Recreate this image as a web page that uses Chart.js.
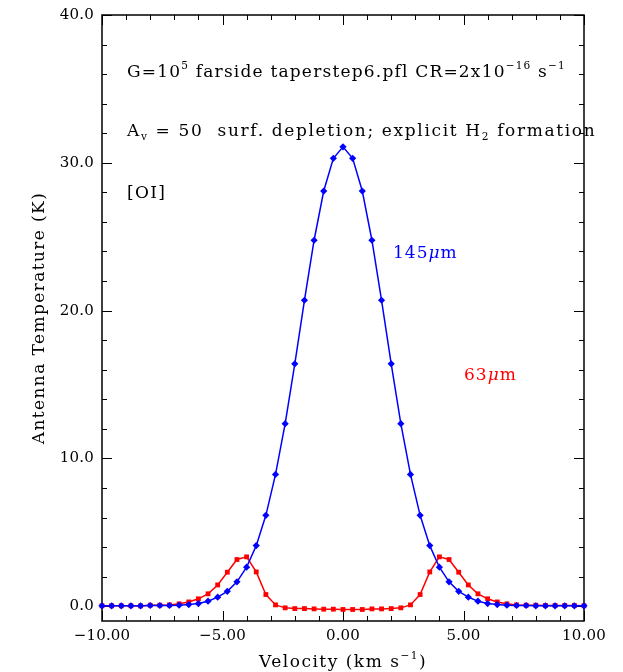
<!DOCTYPE html>
<html>
<head>
<meta charset="utf-8">
<script src="https://cdn.jsdelivr.net/npm/chart.js@4.4.1/dist/chart.umd.min.js"></script>
<style>
  html, body { margin: 0; padding: 0; background: #fff; }
  #wrap { width: 623px; height: 672px; position: relative; }
</style>
</head>
<body>
<div id="wrap"><canvas id="c"></canvas></div>
<script>
/* ===== data ===== */
const velocity = [
  -10.0, -9.6, -9.2, -8.8, -8.4, -8.0, -7.6, -7.2, -6.8, -6.4, -6.0, -5.6, -5.2,
  -4.8, -4.4, -4.0, -3.6, -3.2, -2.8, -2.4, -2.0, -1.6, -1.2, -0.8, -0.4, 0.0,
  0.4, 0.8, 1.2, 1.6, 2.0, 2.4, 2.8, 3.2, 3.6, 4.0, 4.4, 4.8, 5.2, 5.6, 6.0,
  6.4, 6.8, 7.2, 7.6, 8.0, 8.4, 8.8, 9.2, 9.6, 10.0,
];
const t145 = [
  0.03, 0.03, 0.03, 0.03, 0.03, 0.05, 0.05, 0.05, 0.07, 0.11, 0.18, 0.34, 0.61,
  1.01, 1.65, 2.64, 4.10, 6.15, 8.92, 12.35, 16.4, 20.7, 24.76, 28.09, 30.3, 31.08,
  30.3, 28.09, 24.76, 20.7, 16.4, 12.35, 8.92, 6.15, 4.10, 2.64, 1.65, 1.01, 0.61, 0.34, 0.18,
  0.11, 0.07, 0.05, 0.05, 0.03, 0.03, 0.03, 0.03, 0.03, 0.03,
];
const t63 = [
  0.03, 0.03, 0.03, 0.03, 0.02, 0.07, 0.07, 0.09, 0.16, 0.29, 0.50, 0.84, 1.44,
  2.30, 3.16, 3.34, 2.32, 0.79, 0.09, -0.11, -0.16, -0.16, -0.18, -0.20, -0.20, -0.22,
  -0.22, -0.22, -0.18, -0.18, -0.16, -0.11, 0.09, 0.79, 2.32, 3.34, 3.16, 2.30, 1.44, 0.84, 0.50,
  0.29, 0.16, 0.09, 0.07, 0.07, 0.05, 0.05, 0.05, 0.05, 0.03,
];
const xMajor = [-10, -5, 0, 5, 10];
const xMajorLabels = ["\u221210.00", "\u22125.00", "0.00", "5.00", "10.00"];
const xMinor = [-9, -8, -7, -6, -4, -3, -2, -1, 1, 2, 3, 4, 6, 7, 8, 9];
const yMajor = [0, 10, 20, 30, 40];
const yMajorLabels = ["0.0", "10.0", "20.0", "30.0", "40.0"];
const yMinor = [2, 4, 6, 8, 12, 14, 16, 18, 22, 24, 26, 28, 32, 34, 36, 38];

const FONT = '"DejaVu Serif", "Liberation Serif", serif';
const BLUE = "#0000ff";
const RED = "#ff0000";

/* ===== text helpers ===== */
function richWidth(ctx, parts, size, spacing) {
  let w = 0;
  for (const [t, k] of parts) {
    const s = (k === "sup" || k === "sub") ? size * 0.62 : size;
    ctx.font = (k === "it" ? "italic " : "") + s + "px " + FONT;
    ctx.letterSpacing = spacing + "px";
    w += ctx.measureText(t).width;
  }
  return w;
}

function drawRich(ctx, x, y, parts, size, color, spacing = 0) {
  let cx = x;
  ctx.fillStyle = color;
  ctx.textBaseline = "alphabetic";
  ctx.textAlign = "left";
  for (const [t, k] of parts) {
    let s = size, dy = 0;
    if (k === "sup") { s = size * 0.62; dy = -size * 0.45; }
    if (k === "sub") { s = size * 0.62; dy = size * 0.25; }
    ctx.font = (k === "it" ? "italic " : "") + s + "px " + FONT;
    ctx.letterSpacing = spacing + "px";
    ctx.fillText(t, cx, y + dy);
    cx += ctx.measureText(t).width;
  }
  ctx.letterSpacing = "0px";
  return cx - x;
}

/* ===== frame, inward ticks, labels ===== */
const framePlugin = {
  id: "frame",
  beforeDatasetsDraw(chart) {
    const { ctx, chartArea: a, scales: { x, y } } = chart;
    ctx.save();
    ctx.strokeStyle = "#000";
    ctx.lineWidth = 1;
    const tick = (px, len, horiz) => {
      ctx.beginPath();
      if (horiz) {
        ctx.moveTo(px, a.bottom); ctx.lineTo(px, a.bottom - len);
        ctx.moveTo(px, a.top); ctx.lineTo(px, a.top + len);
      } else {
        ctx.moveTo(a.left, px); ctx.lineTo(a.left + len, px);
        ctx.moveTo(a.right, px); ctx.lineTo(a.right - len, px);
      }
      ctx.stroke();
    };
    xMajor.forEach(v => tick(Math.round(x.getPixelForValue(v)) + 0.5, 10, true));
    xMinor.forEach(v => tick(Math.round(x.getPixelForValue(v)) + 0.5, 5, true));
    yMajor.forEach(v => tick(Math.round(y.getPixelForValue(v)) + 0.5, 10, false));
    yMinor.forEach(v => tick(Math.round(y.getPixelForValue(v)) + 0.5, 5, false));

    ctx.lineWidth = 1.5;
    ctx.strokeRect(a.left, a.top, a.right - a.left, a.bottom - a.top);

    // tick labels
    ctx.fillStyle = "#000";
    ctx.font = "15px " + FONT;
    ctx.letterSpacing = "0.2px";
    ctx.textAlign = "right";
    ctx.textBaseline = "middle";
    yMajor.forEach((v, i) => ctx.fillText(yMajorLabels[i], a.left - 8, y.getPixelForValue(v)));
    ctx.textAlign = "center";
    ctx.textBaseline = "alphabetic";
    xMajor.forEach((v, i) => ctx.fillText(xMajorLabels[i], x.getPixelForValue(v), a.bottom + 19));
    ctx.letterSpacing = "0px";

    // axis titles
    const xt = [["Velocity (km s", ""], ["\u22121", "sup"], [")", ""]];
    const w = richWidth(ctx, xt, 17, 1.5);
    drawRich(ctx, (a.left + a.right) / 2 - w / 2, 667, xt, 17, "#000", 1.5);

    ctx.save();
    ctx.translate(44, (a.top + a.bottom) / 2);
    ctx.rotate(-Math.PI / 2);
    const yt = [["Antenna Temperature (K)", ""]];
    const wy = richWidth(ctx, yt, 17, 1.4);
    drawRich(ctx, -wy / 2, 0, yt, 17, "#000", 1.4);
    ctx.restore();
    ctx.restore();
  },
  afterDraw(chart) {
    const { ctx } = chart;
    ctx.save();
    drawRich(ctx, 127, 77, [
      ["G=10", ""], ["5", "sup"], [" farside taperstep6.pfl CR=2x10", ""],
      ["\u221216", "sup"], [" s", ""], ["\u22121", "sup"],
    ], 17, "#000", 1.2);
    drawRich(ctx, 127, 136, [
      ["A", ""], ["v", "sub"], [" = 50  surf. depletion; explicit H", ""],
      ["2", "sub"], [" formation", ""],
    ], 17, "#000", 1.65);
    drawRich(ctx, 127, 198, [["[OI]", ""]], 17, "#000", 1.3);
    drawRich(ctx, 393, 258, [["145", ""], ["\u03bc", "it"], ["m", ""]], 17, BLUE, 1);
    drawRich(ctx, 464, 380, [["63", ""], ["\u03bc", "it"], ["m", ""]], 17, RED, 1);
    ctx.restore();
  },
};

/* ===== chart ===== */
const pts = arr => velocity.map((v, i) => ({ x: v, y: arr[i] }));

new Chart(document.getElementById("c"), {
  type: "line",
  data: {
    datasets: [
      {
        label: "145\u03bcm",
        data: pts(t145),
        borderColor: BLUE,
        backgroundColor: BLUE,
        borderWidth: 1.5,
        pointStyle: "rectRot",
        pointRadius: 3.6,
        pointBorderWidth: 0,
        tension: 0,
        clip: false,
      },
      {
        label: "63\u03bcm",
        data: pts(t63),
        borderColor: RED,
        backgroundColor: RED,
        borderWidth: 1.5,
        pointStyle: "rect",
        pointRadius: 3.4,
        pointBorderWidth: 0,
        tension: 0,
        clip: false,
      },
    ],
  },
  options: {
    responsive: true,
    maintainAspectRatio: false,
    animation: false,
    layout: { padding: { left: 102, right: 39, top: 15, bottom: 51 } },
    plugins: { legend: { display: false }, tooltip: { enabled: false } },
    scales: {
      x: { type: "linear", min: -10, max: 10, display: false },
      y: { type: "linear", min: -1, max: 40, display: false },
    },
  },
  plugins: [framePlugin],
});
</script>
</body>
</html>
